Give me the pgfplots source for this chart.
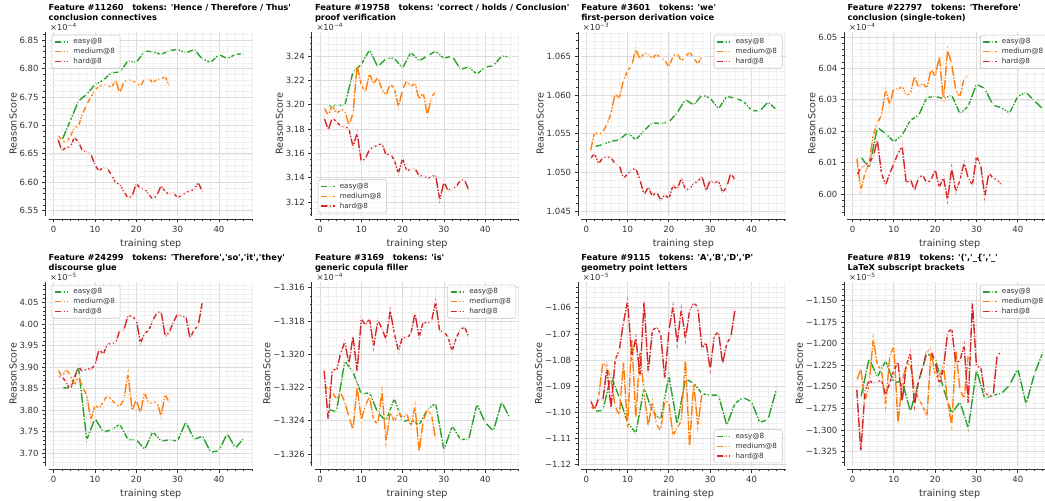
\documentclass[border=0pt]{standalone}
\usepackage{pgfplots}
\pgfplotsset{compat=1.18}
\usepackage{fontspec}
\setmainfont{DejaVu Sans}[Ligatures=TeXOff]
\definecolor{cE}{HTML}{2CA02C}
\definecolor{cM}{HTML}{FF7F0E}
\definecolor{cH}{HTML}{D62728}
\definecolor{ink}{HTML}{333333}
\newcommand{\tfont}{\bfseries\fontsize{8.3}{10}\selectfont}
\pgfplotsset{
  panel/.style={
    scale only axis, width=204.5pt, height=184pt,
    xmin=-1.25, xmax=48.25,
    xtick={0,10,20,30,40}, xticklabels={0,10,20,30,40},
    minor xtick={2,4,...,48},
    grid=both,
    major grid style={draw=black!14, line width=0.8pt},
    minor grid style={draw=black!6, line width=0.6pt},
    axis x line*=bottom, axis y line*=left,
    x axis line style={-, draw=ink, line width=0.8pt, yshift=-3pt},
    y axis line style={-, draw=ink, line width=0.8pt, xshift=-3pt},
    tick align=outside,
    major tick length=3.5pt, minor tick length=2pt,
    every tick/.style={draw=ink, line width=0.8pt},
    every major x tick/.append style={yshift=-3pt},
    every minor x tick/.append style={yshift=-3pt},
    every major y tick/.append style={xshift=-3pt},
    every minor y tick/.append style={xshift=-3pt},
    xticklabel style={font=\fontsize{8.5}{10}\selectfont, text=ink, yshift=-3pt},
    yticklabel style={font=\fontsize{8.5}{10}\selectfont, text=ink, xshift=-3pt},
    xlabel={training step}, ylabel={ReasonScore},
    label style={font=\fontsize{9.6}{11}\selectfont, text=ink},
    ylabel style={yshift=-4pt},
    title style={at={(0,1)}, anchor=south west, align=left, inner sep=0pt, text depth=2pt, yshift=3pt, font=\tfont},
    legend style={font=\fontsize{7.2}{8.5}\selectfont, text=ink, draw=black!22, line width=0.6pt, fill=white, fill opacity=0.8, text opacity=1, draw opacity=1, rounded corners=1.5pt, inner xsep=2.5pt, inner ysep=2pt, row sep=0pt, nodes={inner xsep=2.8pt, inner ysep=1.4pt}},
    legend cell align=left,
    legend image code/.code={\draw[mark repeat=2,mark phase=2,##1, line width=1.3pt, dash pattern=on 9.6pt off 2.2pt on 1.4pt off 2.2pt] plot coordinates {(0pt,0pt) (7.5pt,0pt) (15pt,0pt)};},
  },
  mult/.style={extra description/.append code={\node[anchor=base west, inner sep=0pt, font=\fontsize{8.3}{10}\selectfont, text=ink, xshift=1.5pt, yshift=1.8pt] at (0,1) {×10\textsuperscript{#1}};}},
  lNW/.style={legend style={at={(0.015,0.985)}, anchor=north west}},
  lSW/.style={legend style={at={(0.015,0.015)}, anchor=south west}},
  lNE/.style={legend style={at={(0.985,0.985)}, anchor=north east}},
  lSE/.style={legend style={at={(0.985,0.015)}, anchor=south east}},
  sE/.style={color=cE, line width=1.4pt, dash pattern=on 10pt off 1.5pt on 1.4pt off 1.5pt, mark=*, mark size=1.15pt, mark options={solid, fill=cE, draw=white, line width=0.8pt}},
  sM/.style={color=cM, line width=1.4pt, dash pattern=on 10pt off 1.5pt on 1.4pt off 1.5pt, mark=*, mark size=1.15pt, mark options={solid, fill=cM, draw=white, line width=0.8pt}},
  sH/.style={color=cH, line width=1.4pt, dash pattern=on 10pt off 1.5pt on 1.4pt off 1.5pt, mark=*, mark size=1.15pt, mark options={solid, fill=cH, draw=white, line width=0.8pt}},
}
\begin{document}
\begin{tikzpicture}
\useasboundingbox (0,0) rectangle (1045pt,501pt);
% ---------------- Panel 1
\begin{axis}[panel, at={(48.5pt,285pt)}, anchor=south west, lNW, mult={−4},
  title={Feature \#11260\ \ \ tokens: 'Hence / Therefore / Thus'\\conclusion connectives},
  ymin=6.5406, ymax=6.8647,
  ytick={6.55,6.60,6.65,6.70,6.75,6.80,6.85},
  yticklabels={6.55,6.60,6.65,6.70,6.75,6.80,6.85},
  minor ytick={6.54,6.55,...,6.86}]
\addplot[sE] coordinates {(2,6.674) (4,6.708) (6,6.743) (8,6.755) (10,6.772) (12,6.780) (14,6.793) (16,6.794) (18,6.814) (20,6.811) (22,6.831) (24,6.830) (26,6.825) (28,6.832) (30,6.834) (32,6.828) (34,6.834) (36,6.817) (38,6.811) (40,6.825) (42,6.818) (44,6.825) (46,6.827)};
\addplot[sM] coordinates {(1,6.683) (2,6.674) (3,6.670) (4,6.680) (5,6.696) (6,6.699) (7,6.721) (8,6.737) (9,6.750) (10,6.763) (11,6.769) (12,6.771) (13,6.771) (14,6.767) (15,6.780) (16,6.757) (17,6.777) (18,6.780) (19,6.779) (20,6.775) (21,6.769) (22,6.782) (23,6.783) (24,6.775) (25,6.782) (26,6.781) (27,6.787) (28,6.769)};
\addplot[sH] coordinates {(1,6.677) (2,6.655) (3,6.662) (4,6.661) (5,6.679) (6,6.671) (7,6.655) (8,6.654) (9,6.650) (10,6.630) (11,6.620) (12,6.626) (13,6.624) (14,6.613) (15,6.599) (16,6.597) (17,6.583) (18,6.572) (19,6.576) (20,6.598) (21,6.589) (22,6.589) (23,6.579) (24,6.570) (25,6.577) (26,6.594) (27,6.583) (28,6.579) (29,6.581) (30,6.573) (31,6.577) (32,6.582) (33,6.585) (34,6.587) (35,6.600) (36,6.583)};
\legend{easy@8,medium@8,hard@8}
\end{axis}
% ---------------- Panel 2
\begin{axis}[panel, at={(314.8pt,285pt)}, anchor=south west, lSW, mult={−4},
  title={Feature \#19758\ \ \ tokens: 'correct / holds / Conclusion'\\proof verification},
  ymin=3.1085, ymax=3.2597,
  ytick={3.12,3.14,3.16,3.18,3.20,3.22,3.24},
  yticklabels={3.12,3.14,3.16,3.18,3.20,3.22,3.24},
  minor ytick={3.11,3.115,...,3.256}]
\addplot[sE] coordinates {(2,3.1987) (4,3.1995) (6,3.1993) (8,3.2269) (10,3.2330) (12,3.2450) (14,3.2310) (16,3.2380) (18,3.2380) (20,3.2300) (22,3.2430) (24,3.2360) (26,3.2400) (28,3.2440) (30,3.2380) (32,3.2400) (34,3.2290) (36,3.2310) (38,3.2250) (40,3.2310) (42,3.2320) (44,3.2400) (46,3.2390)};
\addplot[sM] coordinates {(1,3.1976) (2,3.1912) (3,3.1995) (4,3.1927) (5,3.1955) (6,3.1955) (7,3.1831) (8,3.1927) (9,3.2323) (10,3.2159) (11,3.2105) (12,3.2255) (13,3.2168) (14,3.2228) (15,3.2124) (16,3.2077) (17,3.2173) (18,3.2132) (19,3.1982) (20,3.2124) (21,3.2200) (22,3.2146) (23,3.2179) (24,3.2042) (25,3.2097) (26,3.1913) (27,3.2064) (28,3.2105)};
\addplot[sH] coordinates {(1,3.1894) (2,3.1790) (3,3.1894) (4,3.1859) (5,3.1823) (6,3.1818) (7,3.1804) (8,3.1654) (9,3.1769) (10,3.1531) (11,3.1558) (12,3.1632) (13,3.1654) (14,3.1665) (15,3.1681) (16,3.1585) (17,3.1599) (18,3.1544) (19,3.1435) (20,3.1558) (21,3.1457) (22,3.1470) (23,3.1476) (24,3.1413) (25,3.1421) (26,3.1394) (27,3.1408) (28,3.1421) (29,3.1216) (30,3.1367) (31,3.1293) (32,3.1312) (33,3.1326) (34,3.1381) (35,3.1381) (36,3.1298)};
\legend{easy@8,medium@8,hard@8}
\end{axis}
% ---------------- Panel 3
\begin{axis}[panel, at={(581.1pt,285pt)}, anchor=south west, lNE, mult={−3},
  title={Feature \#3601\ \ \ tokens: 'we'\\first-person derivation voice},
  ymin=1.04435, ymax=1.06814,
  ytick={1.045,1.050,1.055,1.060,1.065},
  yticklabels={1.045,1.050,1.055,1.060,1.065},
  minor ytick={1.045,1.046,...,1.0685}]
\addplot[sE] coordinates {(2,1.0533) (4,1.0536) (6,1.0540) (8,1.0542) (10,1.0551) (12,1.0542) (14,1.0554) (16,1.0564) (18,1.0563) (20,1.0565) (22,1.0577) (24,1.0594) (26,1.0587) (28,1.0600) (30,1.0596) (32,1.0582) (34,1.0598) (36,1.0596) (38,1.0592) (40,1.0580) (42,1.0579) (44,1.0591) (46,1.0581)};
\addplot[sM] coordinates {(1,1.0527) (2,1.0552) (3,1.0549) (4,1.0552) (5,1.0562) (6,1.0576) (7,1.0602) (8,1.0595) (9,1.0619) (10,1.0631) (11,1.0638) (12,1.0659) (13,1.0646) (14,1.0654) (15,1.0653) (16,1.0647) (17,1.0653) (18,1.0648) (19,1.0645) (20,1.0636) (21,1.0650) (22,1.0654) (23,1.0644) (24,1.0649) (25,1.0656) (26,1.0648) (27,1.0640) (28,1.0650)};
\addplot[sH] coordinates {(1,1.0518) (2,1.0524) (3,1.0511) (4,1.0519) (5,1.0520) (6,1.0519) (7,1.0511) (8,1.0509) (9,1.0492) (10,1.0498) (11,1.0503) (12,1.0505) (13,1.0490) (14,1.0471) (15,1.0481) (16,1.0469) (17,1.0475) (18,1.0464) (19,1.0471) (20,1.0466) (21,1.0483) (22,1.0478) (23,1.0492) (24,1.0478) (25,1.0478) (26,1.0486) (27,1.0488) (28,1.0495) (29,1.0476) (30,1.0490) (31,1.0486) (32,1.0489) (33,1.0474) (34,1.0481) (35,1.0499) (36,1.0490)};
\legend{easy@8,medium@8,hard@8}
\end{axis}
% ---------------- Panel 4
\begin{axis}[panel, at={(847.4pt,285pt)}, anchor=south west, lNE, mult={−4},
  title={Feature \#22797\ \ \ tokens: 'Therefore'\\conclusion (single-token)},
  ymin=5.99301, ymax=6.0516,
  ytick={6.00,6.01,6.02,6.03,6.04,6.05},
  yticklabels={6.00,6.01,6.02,6.03,6.04,6.05},
  minor ytick={5.994,5.996,...,6.0505}]
\addplot[sE] coordinates {(2,6.0119) (4,6.0082) (6,6.0212) (8,6.0193) (10,6.0166) (12,6.0188) (14,6.0235) (16,6.0251) (18,6.0307) (20,6.0311) (22,6.0304) (24,6.0315) (26,6.0256) (28,6.0280) (30,6.0350) (32,6.0336) (34,6.0283) (36,6.0275) (38,6.0258) (40,6.0311) (42,6.0324) (44,6.0297) (46,6.0272)};
\addplot[sM] coordinates {(1,6.0117) (2,6.0013) (3,6.0066) (4,6.0097) (5,6.0188) (6,6.0227) (7,6.0251) (8,6.0331) (9,6.0283) (10,6.0339) (11,6.0333) (12,6.0343) (13,6.0315) (14,6.0320) (15,6.0375) (16,6.0339) (17,6.0354) (18,6.0336) (19,6.0399) (20,6.0373) (21,6.0439) (22,6.0293) (23,6.0460) (24,6.0413) (25,6.0331) (26,6.0309) (27,6.0368) (28,6.0378)};
\addplot[sH] coordinates {(1,6.0060) (2,6.0082) (3,6.0092) (4,6.0100) (5,6.0119) (6,6.0172) (7,6.0066) (8,6.0029) (9,6.0066) (10,6.0097) (11,6.0129) (12,6.0153) (13,6.0034) (14,6.0047) (15,6.0011) (16,6.0053) (17,6.0060) (18,6.0034) (19,6.0045) (20,6.0078) (21,6.0021) (22,6.0053) (23,5.9981) (24,6.0082) (25,6.0007) (26,6.0045) (27,6.0100) (28,6.0050) (29,6.0029) (30,6.0121) (31,6.0092) (32,5.9992) (33,6.0068) (34,6.0050) (35,6.0047) (36,6.0029)};
\legend{easy@8,medium@8,hard@8}
\end{axis}
% ---------------- Panel 5
\begin{axis}[panel, at={(48.5pt,35pt)}, anchor=south west, lNW, mult={−5},
  title={Feature \#24299\ \ \ tokens: 'Therefore','so','it','they'\\discourse glue},
  ymin=3.6706, ymax=4.0979,
  ytick={3.70,3.75,3.80,3.85,3.90,3.95,4.00,4.05},
  yticklabels={3.70,3.75,3.80,3.85,3.90,3.95,4.00,4.05},
  minor ytick={3.68,3.69,...,4.095}]
\addplot[sE] coordinates {(2,3.853) (4,3.851) (6,3.901) (8,3.731) (10,3.781) (12,3.750) (14,3.754) (16,3.768) (18,3.732) (20,3.732) (22,3.709) (24,3.750) (26,3.729) (28,3.731) (30,3.729) (32,3.773) (34,3.732) (36,3.740) (38,3.703) (40,3.706) (42,3.746) (44,3.712) (46,3.735)};
\addplot[sM] coordinates {(1,3.895) (2,3.878) (3,3.895) (4,3.882) (5,3.858) (6,3.878) (7,3.854) (8,3.835) (9,3.777) (10,3.812) (11,3.804) (12,3.820) (13,3.835) (14,3.825) (15,3.814) (16,3.808) (17,3.825) (18,3.885) (19,3.799) (20,3.825) (21,3.794) (22,3.841) (23,3.816) (24,3.817) (25,3.820) (26,3.786) (27,3.837) (28,3.817)};
\addplot[sH] coordinates {(1,3.878) (2,3.878) (3,3.866) (4,3.847) (5,3.874) (6,3.902) (7,3.889) (8,3.897) (9,3.895) (10,3.905) (11,3.942) (12,3.930) (13,3.953) (14,3.956) (15,3.955) (16,3.986) (17,3.986) (18,4.021) (19,4.017) (20,4.011) (21,3.956) (22,3.978) (23,3.986) (24,4.009) (25,4.026) (26,4.030) (27,3.972) (28,3.982) (29,4.005) (30,4.024) (31,4.017) (32,4.018) (33,3.967) (34,3.987) (35,3.997) (36,4.052)};
\legend{easy@8,medium@8,hard@8}
\end{axis}
% ---------------- Panel 6
\begin{axis}[panel, at={(314.8pt,35pt)}, anchor=south west, lNE, mult={−4},
  title={Feature \#3169\ \ \ tokens: 'is'\\generic copula filler},
  ymin=-1.32672, ymax=-1.31566,
  ytick={-1.326,-1.324,-1.322,-1.320,-1.318,-1.316},
  yticklabels={−1.326,−1.324,−1.322,−1.320,−1.318,−1.316},
  minor ytick={-1.3265,-1.326,...,-1.3159}]
\addplot[sE] coordinates {(2,-1.32332) (4,-1.32346) (6,-1.32040) (8,-1.32106) (10,-1.32240) (12,-1.32232) (14,-1.32352) (16,-1.32400) (18,-1.32266) (20,-1.32406) (22,-1.32392) (24,-1.32426) (26,-1.32332) (28,-1.32296) (30,-1.32576) (32,-1.32432) (34,-1.32512) (36,-1.32512) (38,-1.32300) (40,-1.32412) (42,-1.32460) (44,-1.32286) (46,-1.32386)};
\addplot[sM] coordinates {(1,-1.32216) (2,-1.32192) (3,-1.32226) (4,-1.32272) (5,-1.32232) (6,-1.32286) (7,-1.32376) (8,-1.32452) (9,-1.32196) (10,-1.32396) (11,-1.32306) (12,-1.32256) (13,-1.32396) (14,-1.32420) (15,-1.32226) (16,-1.32526) (17,-1.32346) (18,-1.32406) (19,-1.32346) (20,-1.32386) (21,-1.32356) (22,-1.32436) (23,-1.32312) (24,-1.32586) (25,-1.32400) (26,-1.32332) (27,-1.32366) (28,-1.32512)};
\addplot[sH] coordinates {(1,-1.32092) (2,-1.32396) (3,-1.32086) (4,-1.32100) (5,-1.31996) (6,-1.31926) (7,-1.32056) (8,-1.31892) (9,-1.32106) (10,-1.31786) (11,-1.31826) (12,-1.31786) (13,-1.31956) (14,-1.31796) (15,-1.31846) (16,-1.31912) (17,-1.31736) (18,-1.31876) (19,-1.31980) (20,-1.31896) (21,-1.31906) (22,-1.31876) (23,-1.31756) (24,-1.31896) (25,-1.31806) (26,-1.31816) (27,-1.31800) (28,-1.31686) (29,-1.31866) (30,-1.31860) (31,-1.31900) (32,-1.31980) (33,-1.31900) (34,-1.31852) (35,-1.31836) (36,-1.31896)};
\legend{easy@8,medium@8,hard@8}
\end{axis}
% ---------------- Panel 7
\begin{axis}[panel, at={(581.1pt,35pt)}, anchor=south west, lSE, mult={−5},
  title={Feature \#9115\ \ \ tokens: 'A','B','D','P'\\geometry point letters},
  ymin=-1.1205, ymax=-1.0501,
  ytick={-1.12,-1.11,-1.10,-1.09,-1.08,-1.07,-1.06},
  yticklabels={−1.12,−1.11,−1.10,−1.09,−1.08,−1.07,−1.06},
  minor ytick={-1.120,-1.118,...,-1.0505}]
\addplot[sE] coordinates {(2,-1.0996) (4,-1.0992) (6,-1.0860) (8,-1.0943) (10,-1.1039) (12,-1.1079) (14,-1.0906) (16,-1.0996) (18,-1.1027) (20,-1.0860) (22,-1.1045) (24,-1.0872) (26,-1.0888) (28,-1.0928) (30,-1.0934) (32,-1.0934) (34,-1.1049) (36,-1.0965) (38,-1.0943) (40,-1.0959) (42,-1.1039) (44,-1.1027) (46,-1.0913)};
\addplot[sM] coordinates {(1,-1.0977) (2,-1.0990) (3,-1.0940) (4,-1.0810) (5,-1.0829) (6,-1.0872) (7,-1.0977) (8,-1.1012) (9,-1.0804) (10,-1.1064) (11,-1.0718) (12,-1.1021) (13,-1.0767) (14,-1.0928) (15,-1.1052) (16,-1.0959) (17,-1.1045) (18,-1.1070) (19,-1.0955) (20,-1.0962) (21,-1.1089) (22,-1.1058) (23,-1.1033) (24,-1.0798) (25,-1.1132) (26,-1.0885) (27,-1.1052) (28,-1.0928)};
\addplot[sH] coordinates {(1,-1.0953) (2,-1.0990) (3,-1.0946) (4,-1.0955) (5,-1.0831) (6,-1.0984) (7,-1.0798) (8,-1.0761) (9,-1.0656) (10,-1.0575) (11,-1.0786) (12,-1.0715) (13,-1.0860) (14,-1.0575) (15,-1.0847) (16,-1.0687) (17,-1.0674) (18,-1.0699) (19,-1.0872) (20,-1.0687) (21,-1.0594) (22,-1.0736) (23,-1.0606) (24,-1.0720) (25,-1.0612) (26,-1.0581) (27,-1.0596) (28,-1.0755) (29,-1.0732) (30,-1.0835) (31,-1.0708) (32,-1.0690) (33,-1.0814) (34,-1.0736) (35,-1.0711) (36,-1.0606)};
\legend{easy@8,medium@8,hard@8}
\end{axis}
% ---------------- Panel 8
\begin{axis}[panel, at={(847.4pt,35pt)}, anchor=south west, lNE, mult={−5},
  title={Feature \#819\ \ \ tokens: '(','\_\{','\_'\\LaTeX subscript brackets},
  ymin=-1.3415, ymax=-1.1288,
  ytick={-1.325,-1.300,-1.275,-1.250,-1.225,-1.200,-1.175,-1.150},
  yticklabels={−1.325,−1.300,−1.275,−1.250,−1.225,−1.200,−1.175,−1.150},
  minor ytick={-1.3375,-1.33125,...,-1.13}]
\addplot[sE] coordinates {(2,-1.2623) (4,-1.2173) (6,-1.2385) (8,-1.2200) (10,-1.2454) (12,-1.2431) (14,-1.2788) (16,-1.2431) (18,-1.2115) (20,-1.2173) (22,-1.2519) (24,-1.2808) (26,-1.2673) (28,-1.2981) (30,-1.2308) (32,-1.2635) (34,-1.2596) (36,-1.2577) (38,-1.2481) (40,-1.2288) (42,-1.2700) (44,-1.2354) (46,-1.2108)};
\addplot[sM] coordinates {(1,-1.2431) (2,-1.2288) (3,-1.2662) (4,-1.2481) (5,-1.1942) (6,-1.2250) (7,-1.2308) (8,-1.2712) (9,-1.2146) (10,-1.2031) (11,-1.2923) (12,-1.2442) (13,-1.2250) (14,-1.2231) (15,-1.2538) (16,-1.2635) (17,-1.2723) (18,-1.2846) (19,-1.2096) (20,-1.2365) (21,-1.2404) (22,-1.2250) (23,-1.2673) (24,-1.2942) (25,-1.2077) (26,-1.2538) (27,-1.2635) (28,-1.2135)};
\addplot[sH] coordinates {(1,-1.2519) (2,-1.3250) (3,-1.2558) (4,-1.2423) (5,-1.2462) (6,-1.2442) (7,-1.2423) (8,-1.2596) (9,-1.2454) (10,-1.2308) (11,-1.2212) (12,-1.2673) (13,-1.2250) (14,-1.2108) (15,-1.2712) (16,-1.2423) (17,-1.2269) (18,-1.2077) (19,-1.2085) (20,-1.2212) (21,-1.2462) (22,-1.2288) (23,-1.1877) (24,-1.1827) (25,-1.2231) (26,-1.2192) (27,-1.2019) (28,-1.2700) (29,-1.1519) (30,-1.2269) (31,-1.2269) (32,-1.2577) (33,-1.2596) (34,-1.2615) (35,-1.2135) (36,-1.2096)};
\legend{easy@8,medium@8,hard@8}
\end{axis}
\end{tikzpicture}
\end{document}
